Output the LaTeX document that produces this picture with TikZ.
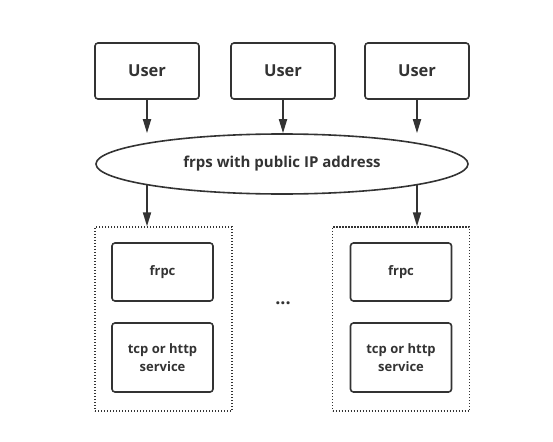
\documentclass[tikz,border=0pt]{standalone}
\usepackage{fontspec}
\setmainfont{Open Sans}
\usetikzlibrary{arrows.meta,shapes.geometric}
\definecolor{dark}{HTML}{333333}
\begin{document}
\begin{tikzpicture}[x=1pt,y=-1pt,
  userbox/.style={draw=dark,line width=1.6pt,rounded corners=3pt,minimum width=104pt,minimum height=56pt,inner sep=0pt,font=\bfseries\fontsize{16.5}{18}\selectfont,text=dark},
  clientbox/.style={draw=dark,line width=1.6pt,rounded corners=3pt,minimum width=101pt,inner sep=0pt,align=center,font=\bfseries\fontsize{13}{18}\selectfont,text=dark},
  groupbox/.style={draw=dark,line width=1.3pt,dash pattern=on 1.3pt off 1.7pt,minimum width=137pt,minimum height=184pt,inner sep=0pt},
  arr/.style={dark,line width=1.8pt,-{Triangle[width=8pt,length=14pt]}}]
\useasboundingbox (0,0) rectangle (553,441);

\node[userbox] (user1) at (147,71) {User};
\node[userbox] (user2) at (283,71) {User};
\node[userbox] (user3) at (417,71) {User};

\node[ellipse,draw=dark,line width=1.6pt,minimum width=372pt,minimum height=60pt,inner sep=0pt,font=\bfseries\fontsize{15}{18}\selectfont,text=dark] (frps) at (282,164) {frps with public IP address};

\node[groupbox] (group1) at (163.5,319) {};
\node[groupbox] (group2) at (401,319) {};

\node[clientbox,minimum height=58pt] (frpc1) at (162.5,272) {frpc};
\node[clientbox,minimum height=69pt] (service1) at (162.5,357.5) {tcp or http\\service};
\node[clientbox,minimum height=58pt] (frpc2) at (401,272) {frpc};
\node[clientbox,minimum height=69pt] (service2) at (401,357.5) {tcp or http\\service};

\node[font=\bfseries\fontsize{18}{18}\selectfont,text=dark] (dots) at (283,303) {...};

\draw[arr] (user1) -- (user1 |- frps.north);
\draw[arr] (user2) -- (user2 |- frps.north);
\draw[arr] (user3) -- (user3 |- frps.north);

\draw[arr] (frps.189 -| user1) -- (user1 |- group1.north);
\draw[arr] (frps.-9 -| user3) -- (user3 |- group2.north);
\end{tikzpicture}
\end{document}
